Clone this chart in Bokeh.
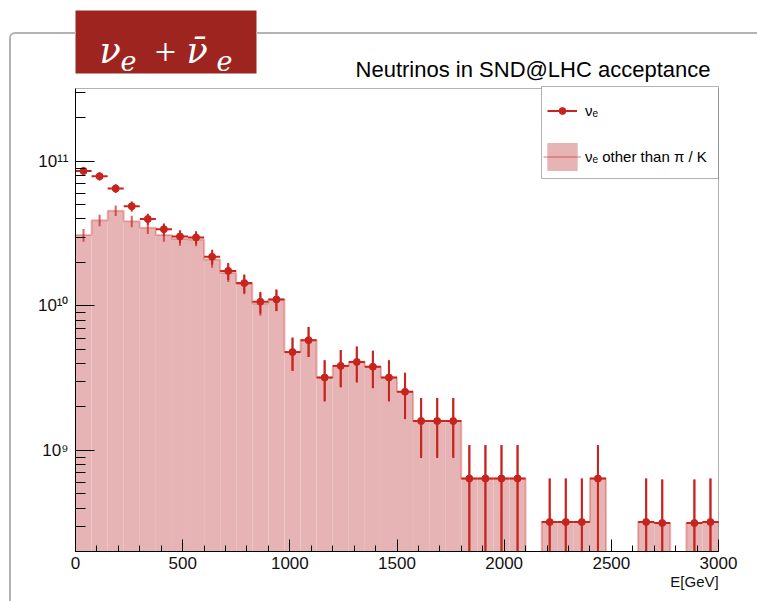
import math
import numpy as np
from bokeh.plotting import figure
from bokeh.models import (ColumnDataSource, Range1d, Label, Legend, LegendItem,
                          BoxAnnotation, FixedTicker, SingleIntervalTicker,
                          CustomJSTickFormatter, LinearAxis, InlineStyleSheet)
from bokeh.embed import file_html
from bokeh.resources import INLINE

# ---------------- data ----------------
E_MIN, E_MAX, BIN_WIDTH = 0, 3000, 75
Y_MIN, Y_MAX = 2e8, 3.2e11

NU_E = [8.6e10, 7.9e10, 6.5e10, 4.9e10, 4.0e10, 3.4e10, 3.03e10, 2.98e10,
        2.19e10, 1.75e10, 1.44e10, 1.07e10, 1.11e10, 4.8e9, 5.8e9, 3.2e9,
        3.85e9, 4.1e9, 3.8e9, 3.2e9, 2.55e9, 1.6e9, 1.6e9, 1.6e9,
        6.4e8, 6.4e8, 6.4e8, 6.4e8, 0, 3.2e8, 3.2e8, 3.2e8,
        6.4e8, 0, 0, 3.2e8, 3.15e8, 0, 3.15e8, 3.2e8]
NU_E_ERR = [5.2e9, 5.0e9, 4.55e9, 3.95e9, 3.57e9, 3.29e9, 3.1e9, 3.08e9,
            2.64e9, 2.36e9, 2.14e9, 1.84e9, 1.88e9, 1.24e9, 1.36e9, 1.01e9,
            1.11e9, 1.14e9, 1.1e9, 1.01e9, 9.0e8, 7.1e8, 7.1e8, 7.1e8,
            4.5e8, 4.5e8, 4.5e8, 4.5e8, 0, 3.2e8, 3.2e8, 3.2e8,
            4.5e8, 0, 0, 3.2e8, 3.15e8, 0, 3.15e8, 3.2e8]
NU_E_OTHER = [3.1e10, 3.92e10, 4.57e10, 3.86e10, 3.48e10, 3.1e10, 2.92e10, 2.89e10,
              2.1e10, 1.7e10, 1.42e10, 1.04e10, 1.11e10, 4.8e9, 5.8e9, 3.2e9,
              3.85e9, 4.1e9, 3.8e9, 3.2e9, 2.55e9, 1.6e9, 1.6e9, 1.6e9,
              6.4e8, 6.4e8, 6.4e8, 6.4e8, 0, 3.2e8, 3.2e8, 3.2e8,
              6.4e8, 0, 0, 3.2e8, 3.15e8, 0, 3.15e8, 3.2e8]
NU_E_OTHER_ERR = [3.14e9, 3.53e9, 3.81e9, 3.5e9, 3.33e9, 3.14e9, 3.05e9, 3.03e9,
                  2.58e9, 2.33e9, 2.13e9, 1.82e9, 1.88e9, 1.24e9, 1.36e9, 1.01e9,
                  1.11e9, 1.14e9, 1.1e9, 1.01e9, 9.0e8, 7.1e8, 7.1e8, 7.1e8,
                  4.5e8, 4.5e8, 4.5e8, 4.5e8, 0, 3.2e8, 3.2e8, 3.2e8,
                  4.5e8, 0, 0, 3.2e8, 3.15e8, 0, 3.15e8, 3.2e8]

Y_TICKS = [1e9, 1e10, 1e11]
Y_TICK_LABELS = ["10\u2079", "10\u00b9\u2070", "10\u00b9\u00b9"]
TITLE = "Neutrinos in SND@LHC acceptance"
X_LABEL = "E[GeV]"
LEGEND_LABELS = ["\u03bd\u2091", "\u03bd\u2091 other than \u03c0 / K"]

# ---------------- style / layout ----------------
RED = "#c8241e"
PINK = "#e6b4b4"
BOX_RED = "#9e241f"
GREY = "#b3b3b3"
FONT = "Liberation Sans"
SERIF = "DejaVu Serif"
FLOOR = 1e6

W, H = 757, 601
FL, FR, FT, FB = 75, 718, 88, 551   # ROOT frame edges in canvas px

# helpers: canvas pixel -> data coordinate (for decorations only)
XS = (E_MAX - E_MIN) / (FR - FL)
LY0, LY1 = math.log10(Y_MIN), math.log10(Y_MAX)
YS = (LY1 - LY0) / (FB - FT)


def dx(cx):
    return E_MIN + (cx - FL) * XS


def dy(cy):
    return 10 ** (LY0 + (FB - cy) * YS)


edges = np.arange(E_MIN, E_MAX + BIN_WIDTH, BIN_WIDTH)
lo_e, hi_e = edges[:-1], edges[1:]
mid = (lo_e + hi_e) / 2


def hist_source(vals, errs):
    v = np.array(vals, float)
    e = np.array(errs, float)
    m = v > 0
    return ColumnDataSource(dict(
        left=lo_e[m], right=hi_e[m], x=mid[m], top=v[m],
        lo=np.maximum(v[m] - e[m], FLOOR), hi=v[m] + e[m],
        bottom=np.full(int(m.sum()), FLOOR)))


# the Bokeh frame extends to the top and right canvas edges so the
# decorations can be drawn; the ROOT frame is drawn as a box inside it
p = figure(width=W, height=H, output_backend="svg", toolbar_location=None,
           title=None, y_axis_type="log",
           x_range=Range1d(E_MIN, dx(W)), y_range=Range1d(Y_MIN, dy(0)),
           min_border_left=FL, min_border_right=0,
           min_border_top=0, min_border_bottom=H - FB,
           background_fill_color="white", border_fill_color="white")
p.outline_line_color = None
p.grid.visible = False

# axes
p.xaxis.ticker = SingleIntervalTicker(interval=500, num_minor_ticks=5)
minor = [m * 10.0 ** e for e in (8, 9, 10, 11) for m in range(2, 10)
         if Y_MIN <= m * 10.0 ** e <= Y_MAX]
p.yaxis.ticker = FixedTicker(ticks=Y_TICKS, minor_ticks=minor)
p.yaxis.formatter = CustomJSTickFormatter(
    args=dict(yt=Y_TICKS, yl=Y_TICK_LABELS),
    code="""
    for (let i = 0; i < yt.length; i++) {
        if (Math.abs(Math.log10(yt[i]) - Math.log10(tick)) < 1e-6) return yl[i];
    }
    return '';
    """)
p.xaxis.bounds = (E_MIN, E_MAX)
p.yaxis.bounds = (Y_MIN, Y_MAX)
for ax in (p.xaxis[0], p.yaxis[0]):
    ax.axis_line_color = "black"
    ax.major_tick_line_color = "black"
    ax.minor_tick_line_color = "black"
    ax.major_tick_out = 0
    ax.minor_tick_out = 0
    ax.major_label_text_font = FONT
    ax.major_label_text_font_size = "17px"
    ax.major_label_text_color = "#111111"
p.xaxis.major_tick_in = 12
p.xaxis.minor_tick_in = 6
p.xaxis.major_label_standoff = 5
p.yaxis.major_tick_in = 19
p.yaxis.minor_tick_in = 10
p.yaxis.major_label_standoff = 7

# x-axis title, right-aligned at the end of the axis (ROOT style)
X_LABEL_X = dx(FR - 24)
lab_axis = LinearAxis(ticker=FixedTicker(ticks=[X_LABEL_X]),
                      formatter=CustomJSTickFormatter(args=dict(t=X_LABEL), code="return t;"),
                      axis_line_color=None, major_tick_line_color=None,
                      minor_tick_line_color=None, major_label_standoff=-5,
                      major_label_text_font=FONT, major_label_text_font_size="15px",
                      major_label_text_color="#111111")
p.add_layout(lab_axis, "below")

# ν_e other than π/K : filled histogram
other = hist_source(NU_E_OTHER, NU_E_OTHER_ERR)
r_fill = p.quad(left="left", right="right", bottom="bottom", top="top",
                source=other, fill_color=PINK, line_color=None)
ov = np.array(NU_E_OTHER, float)
step_y = np.where(ov > 0, ov, FLOOR)
step_y = np.append(step_y, step_y[-1])
r_step = p.step(x=edges, y=step_y, mode="after", line_color=RED,
                line_alpha=0.3, line_width=2)
p.segment(x0="x", y0="lo", x1="x", y1="hi", source=other,
          line_color=RED, line_alpha=0.7, line_width=2)

# ν_e : points with error bars
allsrc = hist_source(NU_E, NU_E_ERR)
r_h = p.segment(x0="left", y0="top", x1="right", y1="top", source=allsrc,
                line_color=RED, line_width=2)
p.segment(x0="x", y0="lo", x1="x", y1="hi", source=allsrc,
          line_color=RED, line_width=2)
r_pt = p.scatter(x="x", y="top", source=allsrc, size=7,
                 fill_color=RED, line_color=RED)

# ROOT frame
p.add_layout(BoxAnnotation(left=E_MIN, right=E_MAX, bottom=Y_MIN, top=Y_MAX,
                           fill_color=None, fill_alpha=0,
                           line_color="black", line_width=1))

# legend box + entries
p.add_layout(BoxAnnotation(left=dx(541), right=E_MAX, bottom=dy(178), top=dy(86),
                           fill_color="white", fill_alpha=1,
                           line_color="black", line_width=1))
common = dict(padding=0, margin=0, spacing=0, border_line_color=None,
              background_fill_alpha=0, label_text_font=FONT,
              label_text_font_size="15px", label_text_color="black")
p.add_layout(Legend(items=[LegendItem(label=LEGEND_LABELS[0], renderers=[r_h, r_pt])],
                    location=(547 - FL, FB - 118.5), glyph_width=30, glyph_height=17,
                    label_height=17, label_standoff=8, **common))
p.add_layout(Legend(items=[LegendItem(label=LEGEND_LABELS[1], renderers=[r_fill, r_step])],
                    location=(543 - FL, FB - 173.5), glyph_width=38, glyph_height=35,
                    label_height=35, label_standoff=4, **common))

# red title box
p.add_layout(BoxAnnotation(left=dx(74), right=dx(256), bottom=dy(73), top=dy(10),
                           fill_color=BOX_RED, fill_alpha=1, line_color=None))


def lab(text, cx, cy, size, font=SERIF, style="italic", color="white", align="left"):
    p.add_layout(Label(x=dx(cx), y=dy(cy), text=text, text_font=font,
                       text_font_size=f"{size}px", text_font_style=style,
                       text_color=color, text_align=align,
                       text_baseline="alphabetic"))


lab("\u03bd", 99, 50, 35)
lab("e", 120, 60, 27)
lab("+", 165, 52, 38, font="Liberation Serif", style="normal", align="center")
lab("\u03bd\u0304", 186, 50, 35)
lab("e", 216, 60, 27)

lab(TITLE, 710, 69, 22, font=FONT, style="normal", color="black", align="right")

# slide border (grey rounded corner behind the red box)
p.stylesheets = [InlineStyleSheet(css=f"""
:host {{ position: relative; }}
:host::before {{ content: ""; position: absolute; left: 9px; top: 32px;
  width: 65px; height: 640px; border-left: 2px solid {GREY};
  border-top: 2px solid {GREY}; border-top-left-radius: 6px;
  z-index: 5; pointer-events: none; }}
:host::after {{ content: ""; position: absolute; left: 256px; top: 32px;
  width: 520px; height: 0; border-top: 2px solid {GREY};
  z-index: 5; pointer-events: none; }}
""")]

open("out.html", "w").write(file_html(p, INLINE))
